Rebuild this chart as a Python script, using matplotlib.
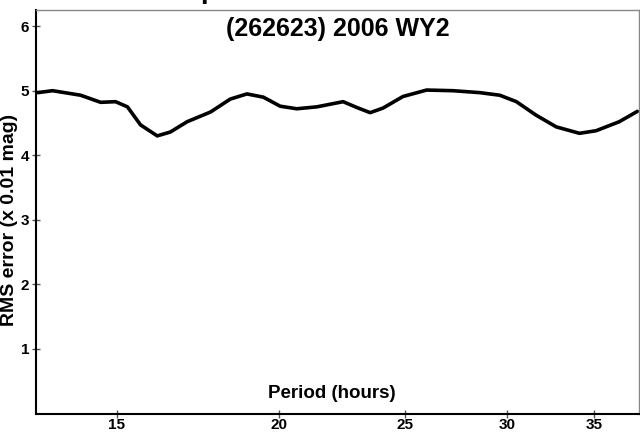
import matplotlib
matplotlib.use("Agg")
import matplotlib.pyplot as plt
from matplotlib.ticker import FixedLocator, NullLocator, FixedFormatter

plt.rcParams["font.family"] = ["Liberation Sans", "DejaVu Sans"]
plt.rcParams["font.weight"] = "bold"

# period spectrum
period_hours = [13.04, 13.39, 14.07, 14.58, 14.97, 15.29, 15.65, 16.12, 16.50,
                17.00, 17.72, 18.35, 18.90, 19.46, 20.05, 20.65, 21.40, 22.42,
                22.97, 23.52, 24.06, 24.93, 26.00, 27.24, 28.57, 29.60, 30.49,
                31.58, 32.72, 34.10, 35.12, 36.60, 37.79]
rms_error = [4.97, 5.00, 4.93, 4.82, 4.83, 4.75, 4.47, 4.30, 4.36,
             4.52, 4.67, 4.87, 4.95, 4.90, 4.76, 4.72, 4.75, 4.83,
             4.74, 4.66, 4.73, 4.91, 5.01, 5.00, 4.97, 4.93, 4.83,
             4.62, 4.44, 4.34, 4.38, 4.52, 4.68]

x_ticks = [15, 20, 25, 30, 35]
y_ticks = [1, 2, 3, 4, 5, 6]
title = "(262623) 2006 WY2"

fig = plt.figure(figsize=(6.4, 4.33), dpi=100)
ax = fig.add_axes([36 / 640, 1 - 413.5 / 433, 603 / 640, 403.5 / 433])

ax.plot(period_hours, rms_error, color="black", lw=2.6, solid_capstyle="round")

ax.set_xscale("log")
ax.set_xlim(13.0, 37.9)
ax.set_ylim(0, 6.25)
ax.xaxis.set_major_locator(FixedLocator(x_ticks))
ax.xaxis.set_major_formatter(FixedFormatter([str(t) for t in x_ticks]))
ax.xaxis.set_minor_locator(NullLocator())
ax.set_yticks(y_ticks)
ax.tick_params(axis="both", direction="inout", length=6, width=1,
               color="#555555", labelsize=11)
ax.tick_params(axis="x", pad=0.5)
ax.tick_params(axis="y", pad=2)

for side in ("top", "right"):
    ax.spines[side].set_color("#888888")
    ax.spines[side].set_linewidth(1)
for side in ("left", "bottom"):
    ax.spines[side].set_linewidth(1.5)

ax.text(0.5, 0.953, title, transform=ax.transAxes, ha="center", va="center",
        fontsize=18, fontweight="bold")
ax.text(0.49, 0.05, "Period (hours)", transform=ax.transAxes, ha="center",
        va="center", fontsize=13.5, fontweight="bold")
fig.text(10 / 640, 1 - 220 / 433, "RMS error (x 0.01 mag)", rotation=90,
         ha="center", va="center", fontsize=14, fontweight="bold")

# descender of a cropped heading above the frame
fig.text(200 / 640, 1 + 2 / 433, "p", ha="left", va="baseline",
         fontsize=20, fontweight="bold")

fig.savefig("out.png", dpi=100)
